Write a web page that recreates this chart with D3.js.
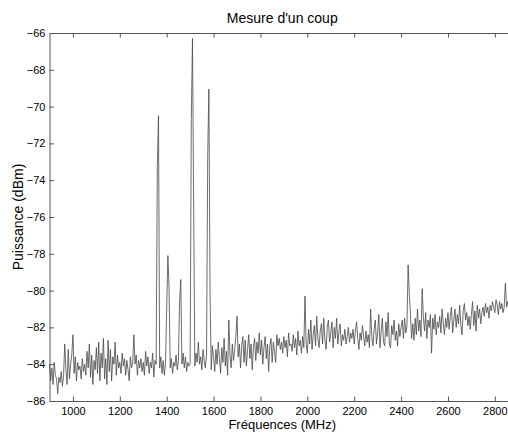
<!DOCTYPE html>
<html>
<head>
<meta charset="utf-8">
<script src="https://cdn.jsdelivr.net/npm/d3@7"></script>
<style>
  html, body { margin: 0; padding: 0; background: #fff; }
  svg { display: block; }
  text { font-family: "Liberation Sans", Arial, Helvetica, sans-serif; fill: #000; }
</style>
</head>
<body>
<svg id="chart" width="508" height="432"></svg>
<script>
// ---- Data ----
const chartTitle = "Mesure d'un coup";
const xLabel = "Fréquences (MHz)";
const yLabel = "Puissance (dBm)";
const xTicks = [1000, 1200, 1400, 1600, 1800, 2000, 2200, 2400, 2600, 2800];
const yTicks = [-86, -84, -82, -80, -78, -76, -74, -72, -70, -68, -66];
const freqStart = 900;   // MHz, first sample
const freqStep = 5;      // MHz between samples
// Measured power (dBm), one value per sample, 900 .. 2860 MHz (20 per row = 100 MHz)
const power = [
  -84.0, -84.9, -84.2, -85.1, -83.9, -84.6, -84.8, -85.6, -84.7, -85.0, -84.4, -85.2, -84.6, -82.9, -84.3, -85.1, -83.2, -84.8, -84.0, -83.5,
  -82.4, -84.5, -83.6, -84.9, -83.9, -84.3, -84.1, -84.8, -83.7, -84.4, -84.0, -84.6, -83.3, -84.2, -82.9, -84.7, -83.5, -85.1, -83.8, -84.3,
  -83.1, -84.5, -82.8, -84.9, -83.4, -84.2, -82.6, -84.8, -83.7, -85.1, -82.7, -84.4, -83.2, -84.9, -83.6, -84.0, -82.8, -84.6, -83.5, -84.2,
  -83.9, -84.5, -83.4, -84.1, -83.7, -84.6, -83.8, -84.3, -84.9, -83.6, -84.2, -83.9, -82.4, -84.0, -83.5, -84.6, -83.8, -84.2, -83.7, -84.4,
  -83.9, -84.6, -83.3, -84.1, -83.6, -84.5, -83.9, -84.2, -83.4, -84.7, -83.8, -84.0, -73.3, -70.5, -84.2, -83.6, -84.5, -83.8, -84.6, -83.9,
  -81.0, -78.1, -79.8, -84.2, -83.7, -84.5, -83.9, -84.1, -83.5, -84.3, -83.8, -80.6, -79.4, -84.0, -83.4, -84.2, -83.6, -84.4, -83.9, -84.1,
  -84.0, -70.7, -66.3, -75.3, -84.1, -83.4, -83.9, -82.8, -84.0, -83.6, -84.3, -83.2, -83.8, -84.2, -83.5, -72.7, -69.05, -80.2, -84.3, -83.0,
  -83.6, -84.4, -83.2, -84.0, -82.8, -83.7, -84.5, -83.1, -83.9, -82.6, -84.1, -83.3, -84.6, -81.6, -83.5, -84.2, -82.9, -83.8, -83.2, -82.5,
  -81.4, -83.6, -82.9, -84.2, -83.0, -82.5, -83.9, -82.7, -84.1, -83.2, -82.4, -83.7, -82.9, -84.3, -83.1, -82.6, -83.8, -82.8, -83.4, -82.3,
  -83.5, -82.7, -84.0, -83.1, -82.5, -83.7, -82.9, -84.4, -83.0, -82.6, -83.9, -82.8, -83.3, -83.9, -82.4, -83.0, -82.6, -83.2, -82.8, -83.4,
  -82.5, -83.1, -82.7, -83.6, -82.3, -83.0, -82.9, -83.3, -82.4, -83.1, -82.6, -83.5, -82.2, -83.0, -82.7, -83.4, -82.5, -83.1, -80.3, -82.9,
  -83.4, -82.1, -82.9, -81.6, -83.2, -82.4, -81.9, -83.0, -81.4, -82.6, -83.1, -82.2, -81.8, -82.9, -81.5, -82.7, -83.2, -82.0, -81.6, -82.8,
  -82.3, -81.7, -83.1, -82.0, -82.6, -81.5, -82.9, -82.2, -81.8, -83.0, -82.4, -82.7, -82.1, -82.9, -82.5, -82.0, -82.8, -82.3, -82.6, -82.1,
  -82.9, -82.2, -81.7, -82.6, -83.2, -82.3, -82.7, -81.9, -82.5, -83.0, -82.2, -82.8, -82.4, -83.1, -81.0, -82.5, -83.0, -82.1, -81.6, -82.9,
  -82.3, -81.3, -83.1, -82.2, -81.5, -82.8, -83.0, -81.7, -82.5, -81.2, -82.9, -83.1, -81.9, -82.4, -81.6, -82.7, -82.2, -83.0, -81.8, -82.5,
  -82.0, -81.6, -82.6, -81.5, -82.3, -81.9, -78.6, -80.2, -81.3, -82.6, -81.8, -82.7, -81.5, -82.4, -81.0, -82.2, -81.6, -82.5, -79.9, -81.4,
  -82.2, -81.2, -82.6, -81.6, -82.0, -81.3, -83.4, -81.5, -82.1, -81.3, -82.4, -81.7, -82.0, -81.4, -82.3, -81.0, -81.8, -82.4, -81.5, -82.0,
  -81.2, -82.1, -81.4, -80.9, -82.3, -81.6, -81.0, -82.0, -81.3, -81.8, -80.8, -81.9, -82.4, -81.1, -80.7, -81.6, -81.2, -81.9, -81.4, -82.1,
  -81.3, -80.6, -81.9, -81.1, -82.2, -80.8, -81.5, -81.0, -81.8, -81.2, -80.9, -81.4, -80.7, -81.2, -80.9, -81.5, -80.8, -81.1, -80.6, -80.9,
  -81.2, -80.5, -80.8, -81.3, -80.6, -81.0, -80.7, -81.2, -80.9, -79.6, -80.9, -80.6, -81.0
];
const xDomain = [900, 2886];
const yDomain = [-86, -66];

// ---- Layout ----
const svg = d3.select("#chart");
const mLeft = 49.5, mRight = 515, mTop = 33, mBottom = 401;

const x = d3.scaleLinear().domain(xDomain).range([mLeft, mRight]);
const y = d3.scaleLinear().domain(yDomain).range([mBottom, mTop]);

const samples = power.map((p, i) => ({ f: freqStart + i * freqStep, p }));

// data line
svg.append("path")
  .datum(samples)
  .attr("fill", "none")
  .attr("stroke", "#474747")
  .attr("stroke-width", 0.8)
  .attr("stroke-linejoin", "round")
  .attr("d", d3.line().x(d => x(d.f)).y(d => y(d.p)));

const axisColor = "#555";
const tickLen = 4.5;

function styleAxis(g) {
  g.select(".domain").attr("stroke", axisColor).attr("stroke-width", 1);
  g.selectAll(".tick line").attr("stroke", axisColor).attr("stroke-width", 1);
  g.selectAll(".tick text")
    .style("font-family", '"Liberation Sans", Arial, Helvetica, sans-serif')
    .style("font-size", "11px").attr("fill", "#000");
}

// bottom axis (inward ticks)
svg.append("g")
  .attr("transform", `translate(0,${mBottom})`)
  .call(d3.axisBottom(x).tickValues(xTicks).tickSizeInner(-tickLen).tickSizeOuter(0).tickPadding(6).tickFormat(d3.format("d")))
  .call(styleAxis);

// top axis (ticks only)
svg.append("g")
  .attr("transform", `translate(0,${mTop})`)
  .call(d3.axisTop(x).tickValues(xTicks).tickSizeInner(-tickLen).tickSizeOuter(0).tickFormat(""))
  .call(styleAxis);

// left axis (inward ticks)
svg.append("g")
  .attr("transform", `translate(${mLeft},0)`)
  .call(d3.axisLeft(y).tickValues(yTicks).tickSizeInner(-tickLen).tickSizeOuter(0).tickPadding(4).tickFormat(d3.format("d")))
  .call(styleAxis);

// title
svg.append("text")
  .attr("x", (mLeft + mRight) / 2)
  .attr("y", 23)
  .attr("text-anchor", "middle")
  .style("font-size", "14px")
  .text(chartTitle);

// x label
svg.append("text")
  .attr("x", (mLeft + mRight) / 2)
  .attr("y", 429)
  .attr("text-anchor", "middle")
  .style("font-size", "13px")
  .text(xLabel);

// y label
svg.append("text")
  .attr("transform", `translate(23,${(mTop + mBottom) / 2}) rotate(-90)`)
  .attr("text-anchor", "middle")
  .style("font-size", "14px")
  .text(yLabel);
</script>
</body>
</html>
